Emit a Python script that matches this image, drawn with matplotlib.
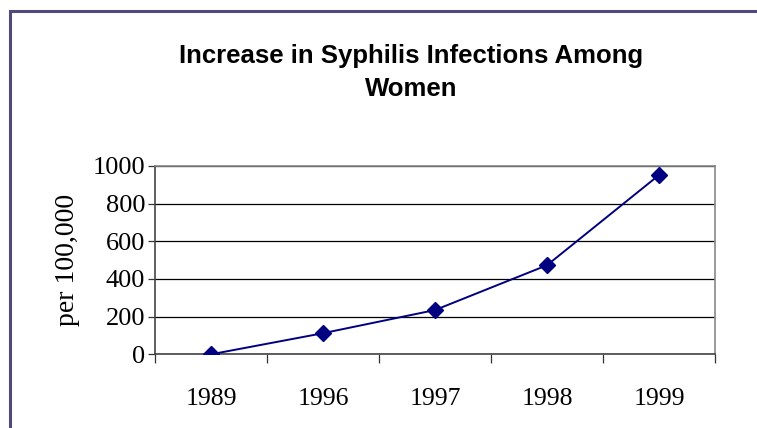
import numpy as np
import matplotlib.pyplot as plt
from matplotlib.patches import Rectangle

years = ['1989', '1996', '1997', '1998', '1999']
rates = [0, 112, 235, 473, 952]
yticks = [0, 200, 400, 600, 800, 1000]

navy = '#000080'
serif = ['Liberation Serif', 'DejaVu Serif']

fig = plt.figure(figsize=(7.57, 4.28), dpi=100)

# slate border around the chart area (runs off the right/bottom edge)
fig.patches.append(Rectangle((10 / 757, -0.1), 1.2, 1 - 10.5 / 428 + 0.1,
                             transform=fig.transFigure, fill=False,
                             edgecolor='#4f4a7a', linewidth=2.2))

fig.text(0.543, 1 - 72.5 / 428, 'Increase in Syphilis Infections Among\nWomen',
         ha='center', va='center', fontsize=18.5, fontweight='bold',
         family=['Liberation Sans', 'DejaVu Sans'], linespacing=1.5)

ax = fig.add_axes([155 / 757, 1 - 354.3 / 428, 560 / 757, 188.3 / 428])
x = np.arange(len(years))
ax.plot(x, rates, color=navy, linewidth=1.4, marker='D', markersize=8,
        markerfacecolor=navy, markeredgecolor=navy, zorder=3)

ax.set_xlim(-0.5, len(years) - 0.5)
ax.set_ylim(0, 1000)
ax.set_yticks(yticks)
ax.set_yticklabels([str(v) for v in yticks], family=serif, fontsize=19)
ax.set_xticks(x)
ax.set_xticklabels(years, family=serif, fontsize=18.5)
ax.set_xticks(np.arange(-0.5, len(years)), minor=True)
ax.tick_params(axis='x', which='major', length=0, pad=24)
ax.tick_params(axis='x', which='minor', length=6.5, width=0.9, color='#333333', direction='out')
ax.tick_params(axis='y', length=5, width=0.9, color='#333333', pad=2)

ax.grid(axis='y', color='black', linewidth=0.9)
ax.set_axisbelow(True)
for s in ['top', 'right']:
    ax.spines[s].set_color('#888888')
    ax.spines[s].set_linewidth(1.2)
for s in ['left', 'bottom']:
    ax.spines[s].set_color('#444444')
    ax.spines[s].set_linewidth(1.2)

ax.set_ylabel('per 100,000', family=serif, fontsize=20, labelpad=9)

fig.savefig('out.png', dpi=100)
